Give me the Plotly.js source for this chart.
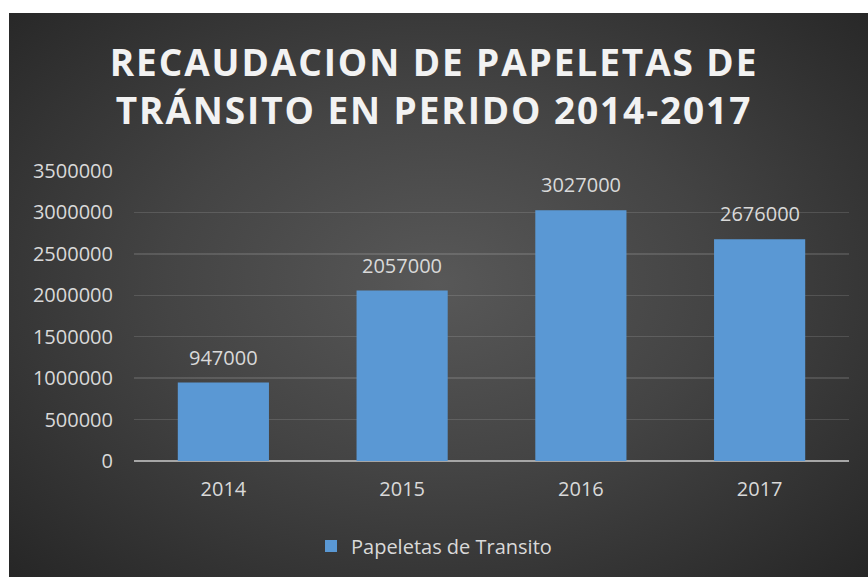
<!DOCTYPE html>
<html>
<head>
<meta charset="utf-8">
<script src="https://cdn.plot.ly/plotly-3.0.1.min.js"></script>
<style>
  html, body { margin: 0; padding: 0; background: #ffffff; }
  #bg {
    position: absolute; left: 9px; top: 13px; width: 859px; height: 564px;
    background: radial-gradient(ellipse farthest-corner at 50% 48%, #585858 0%, #444444 45%, #262626 100%);
  }
  #chart { position: absolute; left: 0; top: 0; width: 868px; height: 577px; }
  .gtitle { letter-spacing: 1.9px; }
</style>
</head>
<body>
<div id="bg"></div>
<div id="chart"></div>
<script>
const categories = ["2014", "2015", "2016", "2017"];
const values = [947000, 2057000, 3027000, 2676000];
const seriesName = "Papeletas de Transito";
const yTicks = [0, 500000, 1000000, 1500000, 2000000, 2500000, 3000000, 3500000];

const labelColor = "#d9d9d9";
const fontFamily = "'Open Sans', 'Noto Sans', sans-serif";

const trace = {
  type: "bar",
  x: categories,
  y: values,
  name: seriesName,
  marker: { color: "#5a98d4" },
  showlegend: true
};

const annotations = categories.map((c, i) => ({
  x: i, y: values[i], xref: "x", yref: "y",
  text: String(values[i]),
  showarrow: false, yanchor: "bottom", yshift: 10,
  font: { family: fontFamily, size: 20, color: labelColor }
}));

const layout = {
  width: 868, height: 577,
  paper_bgcolor: "rgba(0,0,0,0)",
  plot_bgcolor: "rgba(0,0,0,0)",
  margin: { l: 134, r: 19, t: 171, b: 116 },
  title: {
    text: "RECAUDACION DE PAPELETAS DE<br>TRÁNSITO EN PERIDO 2014-2017",
    font: { family: fontFamily, size: 37, color: "#f2f2f2", weight: "bold" },
    x: 0.5, xanchor: "center", xref: "container",
    y: 1 - 76 / 577, yanchor: "middle", yref: "container"
  },
  bargap: 0.49,
  xaxis: {
    type: "category",
    range: [-0.5, 3.5],
    autorange: false,
    tickfont: { family: fontFamily, size: 20, color: labelColor },
    showgrid: false, zeroline: false, showline: false,
    ticks: "", ticklabelstandoff: 14
  },
  yaxis: {
    range: [0, 3500000],
    autorange: false,
    tickvals: yTicks,
    ticktext: yTicks.map(String),
    tickfont: { family: fontFamily, size: 20, color: labelColor },
    showgrid: true, gridcolor: "rgba(255,255,255,0.13)", gridwidth: 1.5,
    zeroline: true, zerolinecolor: "#a6a6a6", zerolinewidth: 2,
    showline: false, ticks: "", ticklabelstandoff: 20
  },
  legend: {
    orientation: "h",
    x: 0.5, xanchor: "center", xref: "container",
    y: 1 - 546 / 577, yanchor: "middle", yref: "container",
    font: { family: fontFamily, size: 20, color: labelColor },
    bgcolor: "rgba(0,0,0,0)"
  },
  annotations: annotations
};

Plotly.newPlot("chart", [trace], layout, { displayModeBar: false, staticPlot: true });
</script>
</body>
</html>
